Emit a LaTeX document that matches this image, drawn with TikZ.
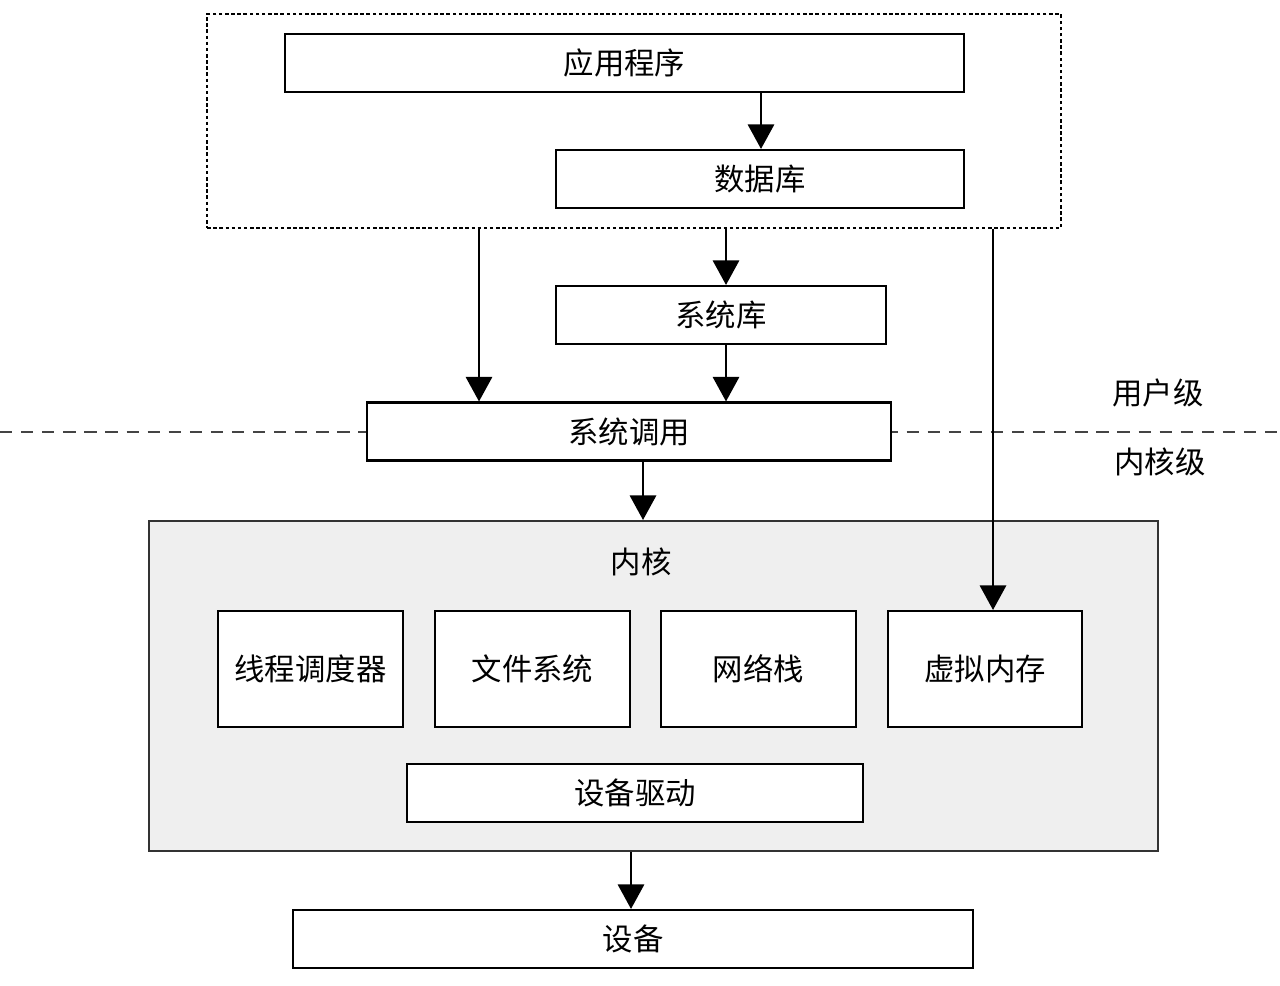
\documentclass[tikz,border=0pt]{standalone}
\usepackage{fontspec}
\setmainfont{Noto Sans CJK SC}
\usetikzlibrary{positioning,arrows.meta}
\definecolor{kGray}{RGB}{239,239,239}
\definecolor{kLine}{RGB}{51,51,51}
\definecolor{kDash}{RGB}{68,68,68}

\begin{document}
\begin{tikzpicture}[
  x=0.02cm, y=-0.02cm,
  font=\fontsize{17.3}{19}\selectfont,
  blk/.style={draw=black, fill=white, line width=1.2pt, minimum height=1.16cm, inner sep=0pt, align=center},
  sub/.style={blk, minimum height=2.32cm},
  arr/.style={-{Triangle[length=14pt, width=15pt]}, line width=1.2pt},
]
\useasboundingbox (0,0) rectangle (1280,986);
% level separator
\draw[kDash, line width=1.6pt, dash pattern=on 7pt off 5pt] (0,432) -- (1280,432);
\node (ul) at (1158,393) {用户级};
\node (kl) at (1160,462) {内核级};
% user space
\node[draw=black, line width=0.8pt, dash pattern=on 2pt off 1.5pt, minimum width=17.08cm, minimum height=4.28cm, inner sep=0pt] (user) at (634,121) {};
\node[blk, minimum width=13.58cm] (app) at (624.5,63) {应用程序};
\node[blk, minimum width=8.16cm] (db) at (760,179) {数据库};
\node[blk, minimum width=6.6cm] (slib) at (721,315) {系统库};
\node[blk, minimum width=10.48cm] (sc) at (629,431.5) {系统调用};
% kernel
\node[draw=kLine, fill=kGray, line width=1.2pt, minimum width=20.18cm, minimum height=6.6cm, inner sep=0pt] (kern) at (653.5,686) {};
\node (klab) at (641,562) {内核};
\node[sub, minimum width=3.7cm] (sched) at (310.5,669) {线程调度器};
\node[sub, minimum width=3.9cm] (fs) at (532.5,669) {文件系统};
\node[sub, minimum width=3.9cm] (net) at (758.5,669) {网络栈};
\node[sub, minimum width=3.88cm] (vm) at (985,669) {虚拟内存};
\node[blk, minimum width=9.12cm] (drv) at (635,793) {设备驱动};
\node[blk, minimum width=13.6cm] (dev) at (633,939) {设备};
% connectors
\coordinate (xa) at (761,0);
\coordinate (xb) at (726,0);
\coordinate (xc) at (479,0);
\coordinate (xd) at (993,0);
\coordinate (xe) at (643,0);
\coordinate (xf) at (631,0);
\draw[arr] (xa |- app.south) -- (xa |- db.north);
\draw[arr] (xb |- user.south) -- (xb |- slib.north);
\draw[arr] (xb |- slib.south) -- (xb |- sc.north);
\draw[arr] (xc |- user.south) -- (xc |- sc.north);
\draw[arr] (xd |- user.south) -- (xd |- vm.north);
\draw[arr] (xe |- sc.south) -- (xe |- kern.north);
\draw[arr] (xf |- kern.south) -- (xf |- dev.north);
\end{tikzpicture}
\end{document}
